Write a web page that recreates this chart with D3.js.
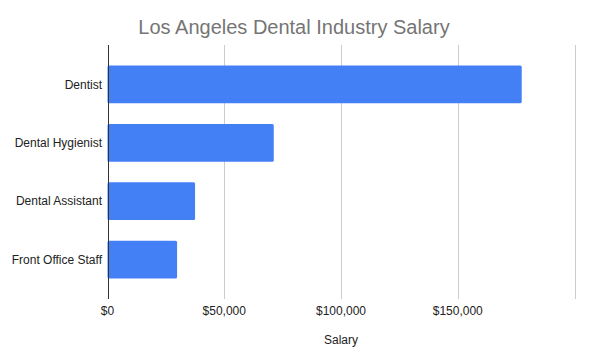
<!DOCTYPE html>
<html>
<head>
<meta charset="utf-8">
<script src="https://cdn.jsdelivr.net/npm/d3@7"></script>
<style>
  body { margin: 0; background: #fff; }
  text { font-family: Arial, "Liberation Sans", sans-serif; }
</style>
</head>
<body>
<div id="chart"></div>
<script>
// data
const roles = ["Dentist", "Dental Hygienist", "Dental Assistant", "Front Office Staff"];
const salaries = [177400, 71200, 37500, 29800];
const tickValues = [0, 50000, 100000, 150000, 200000];
const tickLabels = ["$0", "$50,000", "$100,000", "$150,000", ""];

const width = 591, height = 353;
const margin = { top: 45, right: 16.5, bottom: 54, left: 107.5 };

const svg = d3.select("#chart")
    .append("svg")
    .attr("width", width)
    .attr("height", height);

const x = d3.scaleLinear()
    .domain([0, 200000])
    .range([margin.left, width - margin.right]);

const y = d3.scaleBand()
    .domain(roles)
    .range([margin.top, height - margin.bottom])
    .padding(0.353);

// title
svg.append("text")
    .attr("x", 294)
    .attr("y", 34)
    .attr("text-anchor", "middle")
    .style("font-size", "20px")
    .style("fill", "#757575")
    .text("Los Angeles Dental Industry Salary");

// gridlines
svg.append("g")
    .selectAll("line")
    .data(tickValues.slice(1))
    .join("line")
    .attr("x1", d => Math.round(x(d)) + 0.5)
    .attr("x2", d => Math.round(x(d)) + 0.5)
    .attr("y1", margin.top)
    .attr("y2", height - margin.bottom)
    .attr("stroke", "#cccccc")
    .attr("stroke-width", 1);

// bars
svg.append("g")
    .selectAll("rect")
    .data(roles)
    .join("rect")
    .attr("x", x(0))
    .attr("y", d => y(d))
    .attr("width", (d, i) => x(salaries[i]) - x(0))
    .attr("height", y.bandwidth())
    .attr("rx", 1.5)
    .attr("fill", "#4480f5");

// baseline
svg.append("line")
    .attr("x1", Math.round(x(0)) + 0.5)
    .attr("x2", Math.round(x(0)) + 0.5)
    .attr("y1", margin.top)
    .attr("y2", height - margin.bottom)
    .attr("stroke", "#333333")
    .attr("stroke-width", 1);

// x tick labels
svg.append("g")
    .selectAll("text")
    .data(tickValues)
    .join("text")
    .attr("x", d => x(d))
    .attr("y", 315)
    .attr("text-anchor", "middle")
    .style("font-size", "12px")
    .style("fill", "#222")
    .text((d, i) => tickLabels[i]);

// category labels
svg.append("g")
    .selectAll("text")
    .data(roles)
    .join("text")
    .attr("x", 102)
    .attr("y", d => y(d) + y.bandwidth() / 2)
    .attr("dy", "0.35em")
    .attr("text-anchor", "end")
    .style("font-size", "12px")
    .style("fill", "#222")
    .text(d => d);

// axis title
svg.append("text")
    .attr("x", (x(0) + x(200000)) / 2)
    .attr("y", 344)
    .attr("text-anchor", "middle")
    .style("font-size", "12px")
    .style("fill", "#222")
    .text("Salary");
</script>
</body>
</html>
